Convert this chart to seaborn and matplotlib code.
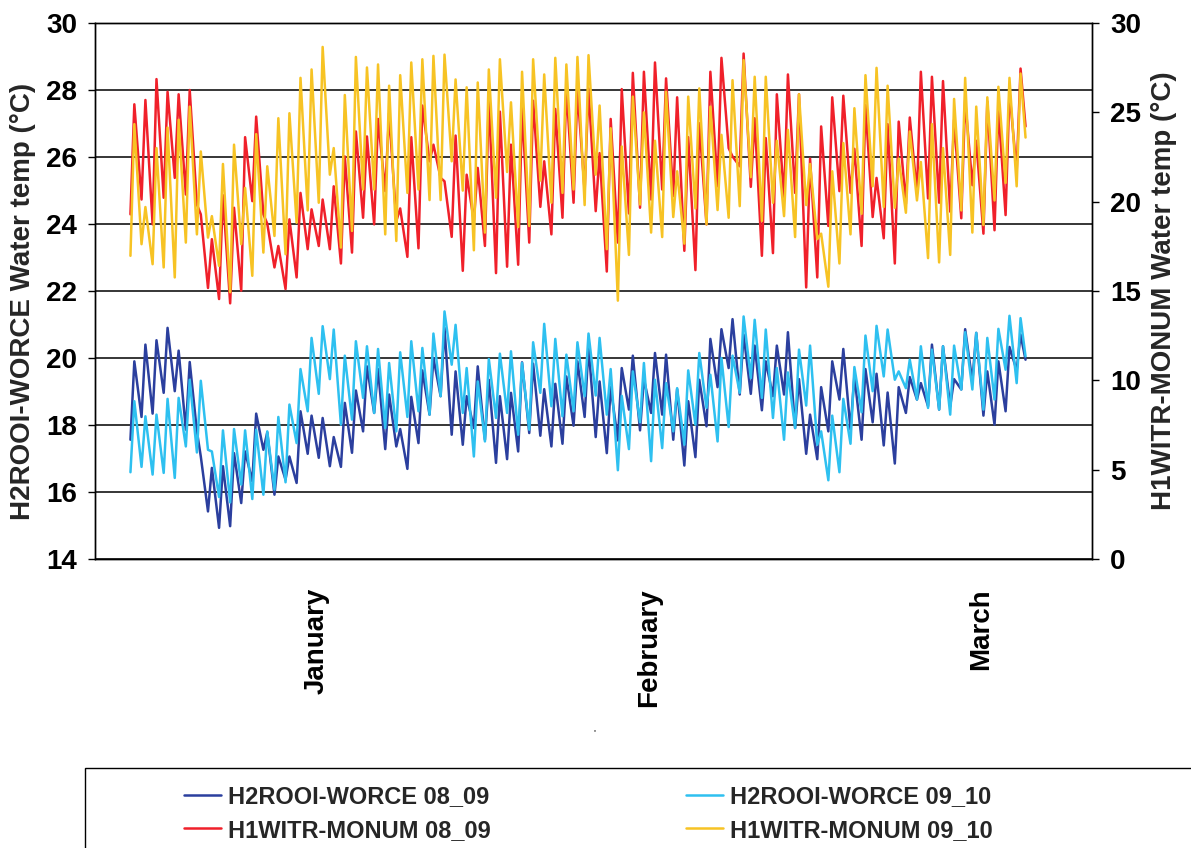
import numpy as np
import pandas as pd
import matplotlib
matplotlib.use("Agg")
import matplotlib.pyplot as plt
from matplotlib.patches import Rectangle
import seaborn as sns

# ---- data: daily low / high water temperature (°C), days 3..83 of the season ----
days = np.arange(3, 84)

# H2ROOI-WORCE (left axis)
worce_0809_lo = [17.56, 18.24, 18.34, 18.96, 19.01, 17.86, 17.81, 15.42, 14.93, 14.98,
                 15.67, 16.32, 17.26, 15.92, 16.37, 16.27, 17.14, 17.02, 16.77, 16.75,
                 17.17, 17.81, 18.36, 17.28, 17.36, 16.69, 17.46, 18.31, 18.86, 17.71,
                 17.41, 17.91, 17.56, 16.87, 16.98, 17.21, 17.76, 17.68, 17.36, 17.44,
                 17.98, 18.24, 17.64, 17.16, 17.54, 18.46, 17.84, 18.36, 18.31, 17.56,
                 16.79, 17.04, 17.96, 19.13, 19.70, 18.91, 18.93, 18.44, 18.86, 18.91,
                 17.91, 17.14, 16.98, 17.81, 18.76, 17.86, 17.56, 18.08, 17.39, 16.85,
                 18.36, 18.76, 18.56, 18.46, 18.56, 19.06, 19.30, 18.28, 18.01, 18.41, 19.63]
worce_0809_hi = [19.90, 20.40, 20.53, 20.90, 20.22, 19.88, 17.06, 16.72, 16.77, 17.16,
                 17.21, 18.34, 17.78, 17.06, 17.06, 18.41, 18.28, 18.21, 17.64, 18.66,
                 19.03, 19.75, 19.67, 18.91, 17.88, 18.84, 19.63, 20.00, 20.90, 19.60,
                 18.86, 19.75, 19.35, 18.86, 18.96, 19.87, 19.83, 19.07, 19.23, 19.45,
                 19.90, 20.33, 19.30, 19.13, 19.70, 20.07, 19.37, 20.15, 20.10, 19.07,
                 18.71, 19.35, 20.57, 20.86, 21.16, 20.70, 20.37, 19.90, 20.37, 20.77,
                 19.37, 18.31, 19.13, 19.90, 20.27, 19.47, 19.67, 19.53, 18.97, 19.13,
                 19.43, 19.25, 20.40, 20.35, 19.37, 20.86, 20.75, 19.60, 19.90, 20.33, 20.70]
worce_0809_end = 19.95

worce_0910_lo = [16.59, 16.75, 16.52, 16.57, 16.42, 17.36, 17.18, 17.26, 15.85, 15.69,
                 16.22, 15.79, 15.92, 16.07, 16.29, 17.46, 18.41, 18.93, 19.37, 18.01,
                 18.16, 18.81, 18.36, 17.91, 17.81, 18.24, 18.41, 18.31, 18.86, 19.80,
                 18.36, 17.06, 17.51, 18.21, 18.36, 17.71, 17.86, 18.96, 18.56, 18.26,
                 18.41, 18.86, 18.88, 18.31, 16.65, 17.28, 18.08, 16.92, 17.31, 17.81,
                 17.41, 18.01, 18.51, 17.51, 17.94, 18.96, 19.40, 18.81, 18.21, 17.56,
                 17.91, 18.58, 17.41, 16.35, 16.59, 17.44, 18.38, 19.01, 19.45, 19.35,
                 19.10, 18.76, 18.51, 18.46, 18.31, 19.06, 19.06, 18.46, 18.76, 19.65, 19.25]
worce_0910_hi = [18.71, 18.26, 18.31, 18.78, 18.81, 19.35, 19.32, 17.21, 17.84, 17.88,
                 17.84, 17.86, 17.81, 18.24, 18.61, 19.67, 20.60, 20.95, 20.85, 20.07,
                 20.50, 20.35, 20.27, 19.85, 20.17, 20.50, 20.30, 20.73, 21.39, 20.99,
                 19.70, 19.30, 19.97, 20.13, 20.20, 19.85, 20.47, 21.02, 20.57, 20.10,
                 20.47, 20.73, 20.60, 19.67, 18.87, 19.60, 19.85, 19.35, 19.25, 19.10,
                 19.63, 20.15, 19.50, 20.00, 20.07, 21.24, 21.14, 20.85, 19.70, 19.57,
                 20.25, 20.37, 17.81, 18.28, 18.78, 19.73, 20.67, 20.96, 20.85, 19.60,
                 19.95, 20.35, 20.25, 20.35, 20.37, 20.77, 20.75, 20.60, 20.87, 21.26, 21.19]
worce_0910_end = 20.05

# H1WITR-MONUM (right axis)
monum_0809_lo = [19.29, 20.12, 18.73, 20.22, 21.33, 20.40, 19.84, 15.17, 14.55, 14.31,
                 15.02, 20.03, 19.29, 16.32, 15.11, 15.76, 17.34, 17.52, 17.34, 16.54,
                 17.15, 19.10, 18.73, 20.59, 18.92, 16.91, 17.39, 22.26, 21.33, 18.03,
                 16.13, 18.92, 17.52, 16.00, 16.36, 16.47, 17.71, 19.71, 18.17, 19.10,
                 19.94, 20.59, 19.47, 16.09, 17.71, 19.34, 19.66, 20.12, 20.68, 20.31,
                 17.25, 16.17, 18.73, 20.86, 23.00, 21.98, 20.83, 16.97, 17.12, 20.18,
                 20.49, 15.20, 15.76, 18.64, 20.59, 20.49, 17.52, 19.14, 17.95, 16.54,
                 19.88, 20.49, 20.18, 19.94, 19.44, 19.07, 20.92, 18.21, 18.40, 19.25, 21.70]
monum_0809_hi = [25.45, 25.69, 26.86, 26.15, 26.01, 26.25, 19.29, 17.90, 20.36, 19.66,
                 23.61, 24.76, 18.77, 17.52, 19.01, 20.49, 19.57, 20.12, 20.86, 22.53,
                 23.93, 23.65, 24.63, 24.95, 19.62, 23.61, 25.38, 23.19, 21.14, 23.70,
                 21.51, 21.89, 25.82, 25.04, 23.19, 25.23, 25.65, 22.26, 25.19, 26.43,
                 26.25, 26.34, 22.72, 24.63, 26.30, 27.21, 27.27, 27.79, 26.90, 25.84,
                 23.61, 24.39, 27.27, 28.05, 22.53, 28.29, 24.67, 23.56, 26.01, 27.12,
                 26.01, 22.41, 24.21, 25.84, 25.93, 22.96, 25.41, 21.33, 24.34, 24.48,
                 24.71, 27.27, 26.99, 26.75, 24.58, 25.69, 23.41, 25.60, 25.26, 26.15, 27.45]
monum_0809_end = 24.21

monum_0910_lo = [16.97, 17.62, 16.50, 16.32, 15.76, 17.71, 18.17, 17.99, 16.41, 14.93,
                 17.62, 15.85, 17.15, 18.08, 17.06, 18.82, 19.51, 19.94, 21.51, 17.43,
                 18.36, 20.68, 20.68, 18.17, 17.80, 20.49, 20.68, 20.09, 20.09, 22.26,
                 20.62, 17.28, 18.27, 20.22, 21.66, 18.58, 18.64, 21.18, 19.94, 20.49,
                 20.68, 19.81, 21.51, 17.34, 14.46, 17.02, 19.84, 18.27, 18.02, 19.14,
                 17.65, 19.62, 18.73, 19.53, 19.10, 19.75, 21.37, 18.92, 19.94, 19.19,
                 18.02, 19.81, 17.90, 15.24, 16.54, 18.17, 19.32, 20.86, 19.70, 19.66,
                 19.38, 20.07, 16.84, 16.60, 17.02, 19.51, 18.27, 18.69, 20.07, 21.05, 20.86]
monum_0910_hi = [24.34, 19.70, 23.00, 24.15, 24.58, 25.32, 22.81, 19.19, 22.11, 23.19,
                 20.77, 23.78, 21.98, 24.67, 24.95, 26.93, 27.40, 28.66, 23.00, 25.97,
                 28.10, 27.51, 27.68, 26.49, 27.08, 27.79, 27.97, 28.16, 28.23, 26.84,
                 26.40, 26.67, 27.40, 27.97, 25.56, 27.27, 27.97, 27.12, 28.05, 27.68,
                 28.10, 28.20, 25.38, 24.11, 23.09, 25.88, 25.00, 23.41, 26.15, 21.70,
                 25.88, 26.34, 25.32, 23.74, 26.80, 27.92, 26.99, 26.99, 23.41, 24.02,
                 26.01, 22.11, 18.21, 21.70, 23.28, 25.23, 27.08, 27.49, 26.49, 22.41,
                 23.93, 22.22, 24.34, 23.00, 25.75, 26.93, 25.32, 25.84, 26.43, 26.93, 27.17]
monum_0910_end = 23.59

series_names = ["H2ROOI-WORCE 08_09", "H2ROOI-WORCE 09_10",
                "H1WITR-MONUM 08_09", "H1WITR-MONUM 09_10"]
x_tick_labels = ["", "", "January", "", "", "February", "", "", "March", ""]
left_ticks = list(range(14, 31, 2))
right_ticks = list(range(0, 31, 5))


def daily_track(lo, hi, end):
    """Morning low then afternoon high for each day, followed by the last reading."""
    t = np.column_stack([days + 0.2, days + 0.55]).ravel()
    v = np.column_stack([lo, hi]).ravel()
    return pd.DataFrame({"day": np.append(t, days[-1] + 1.0),
                         "temp": np.append(v, end)})


# ---- style ----
sns.set_style("white")
plt.rcParams["font.family"] = ["Liberation Sans", "DejaVu Sans"]
plt.rcParams["font.weight"] = "bold"
plt.rcParams["axes.labelweight"] = "bold"

W, H = 1191, 848
fig = plt.figure(figsize=(W / 100, H / 100), dpi=100)
ax = fig.add_axes([95 / W, 1 - 559 / H, 997 / W, 536 / H])
ax2 = ax.twinx()

colors = ["#2B3F9E", "#2EC0F0", "#F0202A", "#F7C324"]
lw = 1.8
common = dict(x="day", y="temp", lw=lw, estimator=None, sort=False)

sns.lineplot(data=daily_track(worce_0809_lo, worce_0809_hi, worce_0809_end),
             ax=ax, color=colors[0], label=series_names[0], **common)
sns.lineplot(data=daily_track(worce_0910_lo, worce_0910_hi, worce_0910_end),
             ax=ax, color=colors[1], label=series_names[1], **common)
sns.lineplot(data=daily_track(monum_0809_lo, monum_0809_hi, monum_0809_end),
             ax=ax2, color=colors[2], label=series_names[2], **common)
sns.lineplot(data=daily_track(monum_0910_lo, monum_0910_hi, monum_0910_end),
             ax=ax2, color=colors[3], label=series_names[3], **common)

for a in (ax, ax2):
    if a.get_legend() is not None:
        a.get_legend().remove()

# ---- axes ----
ax.set_xlim(0, 90)
ax.set_xticks(np.arange(0, 91, 10))
ax.set_xticklabels(x_tick_labels, rotation=90, fontsize=20, fontweight="bold")
ax.set_ylim(14, 30)
ax.set_yticks(left_ticks)
ax.set_yticklabels([str(v) for v in left_ticks], fontsize=20, fontweight="bold")
ax2.set_ylim(0, 30)
ax2.set_yticks(right_ticks)
ax2.set_yticklabels([str(v) for v in right_ticks], fontsize=20, fontweight="bold")

ax.yaxis.grid(True, color="black", lw=1.1)
ax.xaxis.grid(False)
ax2.grid(False)
ax.set_axisbelow(True)

ax.tick_params(axis="x", direction="out", length=7, width=1, pad=14, colors="black")
ax.tick_params(axis="y", direction="out", length=5, width=1, pad=8, colors="black")
ax2.tick_params(axis="y", direction="out", length=5, width=1, pad=8, colors="black")

for a in (ax, ax2):
    for s in a.spines.values():
        s.set_color("black")
        s.set_linewidth(1.0)
        s.set_visible(True)

ax.set_xlabel("")
ax.set_ylabel("H2ROOI-WORCE Water temp (°C)", fontsize=20, fontweight="bold")
ax2.set_ylabel("H1WITR-MONUM Water temp (°C)", fontsize=20, fontweight="bold")
ax.yaxis.set_label_coords(-0.0592, 0.48)
ax2.yaxis.set_label_coords(1.059, 0.5)

fig.text(595 / W, 1 - 733 / H, "'", fontsize=6, ha="center", va="center")

# ---- legend (two rows: WORCE pair on top, MONUM pair below) ----
lines = ax.get_lines()[:2] + ax2.get_lines()[:2]
order = [0, 2, 1, 3]  # legend fills column by column
fig.patches.append(Rectangle((85 / W, -0.05), 1.0, 0.05 + (H - 768) / H,
                             transform=fig.transFigure, fill=False,
                             edgecolor="black", lw=1.0))
fig.legend([lines[i] for i in order], [series_names[i] for i in order],
           loc="upper left", bbox_to_anchor=(184 / W, 1 - 785 / H), ncol=2,
           frameon=False, prop={"size": 17, "weight": "bold"}, handlelength=1.55,
           handletextpad=0.3, columnspacing=8.3, borderaxespad=0,
           borderpad=0, labelspacing=0.45)

fig.savefig("out.png", dpi=100)
